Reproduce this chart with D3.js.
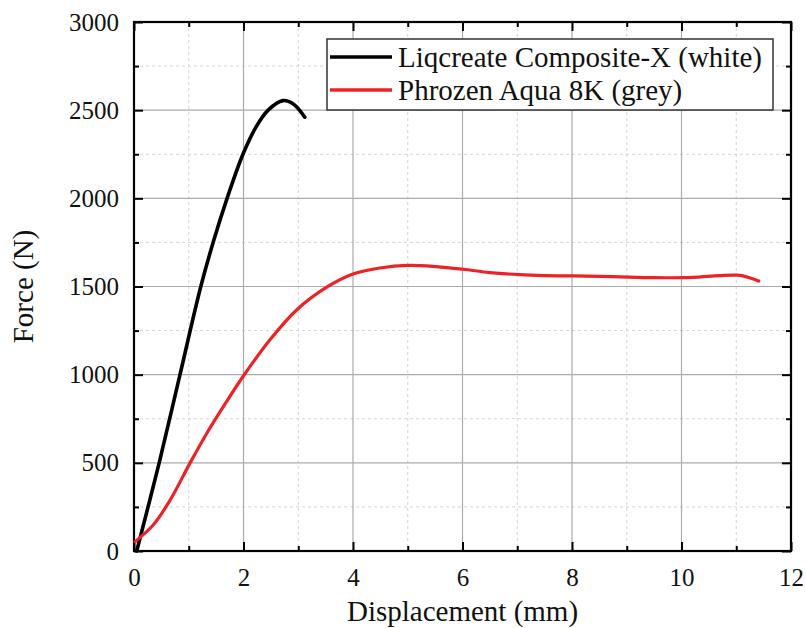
<!DOCTYPE html>
<html>
<head>
<meta charset="utf-8">
<script src="https://cdn.jsdelivr.net/npm/d3@7"></script>
<style>
  body { margin: 0; background: #fff; }
  text { font-family: "Liberation Serif", "DejaVu Serif", serif; fill: #111; }
</style>
</head>
<body>
<svg id="drawing_region"></svg>
<script>
// values
const seriesNames = ["Liqcreate Composite-X (white)", "Phrozen Aqua 8K (grey)"];
const seriesColors = ["#000000", "#ec2227"];

const liqX = [0.05, 0.46, 0.84, 1.22, 1.46, 1.70, 1.99, 2.23, 2.45, 2.72, 2.91, 3.12];
const liqY = [0, 500, 1000, 1500, 1765, 2000, 2250, 2405, 2500, 2554, 2535, 2460];

const phrX = [0.02, 0.35, 0.66, 1.02, 1.33, 1.69, 2.01, 2.48, 2.97, 3.52, 4.0, 4.49, 5.0, 5.52, 6.01, 6.5, 7.04, 7.53, 8.02, 8.75, 9.48, 10.2, 10.69, 11.03, 11.24, 11.41];
const phrY = [53, 147, 289, 497, 668, 847, 998, 1197, 1367, 1496, 1571, 1605, 1620, 1613, 1598, 1579, 1567, 1562, 1560, 1556, 1550, 1552, 1562, 1564, 1550, 1531];

const xTicks = [0, 2, 4, 6, 8, 10, 12];
const yTicks = [0, 500, 1000, 1500, 2000, 2500, 3000];
const xMinor = [1, 3, 5, 7, 9, 11];
const yMinor = [250, 750, 1250, 1750, 2250, 2750];

const config = {
    width: 806,
    height: 628,
    margin: {top: 22, right: 15, bottom: 77, left: 134}
};

const svg = d3.select('#drawing_region')
    .attr('width', config.width)
    .attr('height', config.height);

const inner_width = config.width - config.margin.left - config.margin.right;
const inner_height = config.height - config.margin.top - config.margin.bottom;

const chart = svg.append('g')
    .attr('transform', `translate(${config.margin.left}, ${config.margin.top})`);

const xscale = d3.scaleLinear().domain([0, 12]).range([0, inner_width]);
const yscale = d3.scaleLinear().domain([0, 3000]).range([inner_height, 0]);

// minor grid (dashed)
chart.append('g').selectAll('line').data(xMinor).join('line')
    .attr('x1', d => xscale(d)).attr('x2', d => xscale(d))
    .attr('y1', 0).attr('y2', inner_height)
    .attr('stroke', '#d4d4d4').attr('stroke-width', 1).attr('stroke-dasharray', '3,3');
chart.append('g').selectAll('line').data(yMinor).join('line')
    .attr('y1', d => yscale(d)).attr('y2', d => yscale(d))
    .attr('x1', 0).attr('x2', inner_width)
    .attr('stroke', '#d4d4d4').attr('stroke-width', 1).attr('stroke-dasharray', '3,3');

// major grid
chart.append('g').selectAll('line').data(xTicks.slice(1, -1)).join('line')
    .attr('x1', d => xscale(d)).attr('x2', d => xscale(d))
    .attr('y1', 0).attr('y2', inner_height)
    .attr('stroke', '#ababab').attr('stroke-width', 1.2);
chart.append('g').selectAll('line').data(yTicks.slice(1, -1)).join('line')
    .attr('y1', d => yscale(d)).attr('y2', d => yscale(d))
    .attr('x1', 0).attr('x2', inner_width)
    .attr('stroke', '#ababab').attr('stroke-width', 1.2);

// axes with inward ticks on all four sides
function styleAxis(g) {
    g.select('.domain').remove();
    g.selectAll('line').attr('stroke', '#000').attr('stroke-width', 2);
    g.selectAll('text').style('font-family', '"Liberation Serif", serif').style('font-size', '25px').attr('fill', '#111');
}

chart.append('g')
    .attr('transform', `translate(0, ${inner_height})`)
    .call(d3.axisBottom(xscale).tickValues(xTicks).tickSizeInner(-9).tickSizeOuter(0).tickPadding(17).tickFormat(d3.format('d')))
    .call(styleAxis);
chart.append('g')
    .call(d3.axisTop(xscale).tickValues(xTicks).tickSizeInner(-9).tickSizeOuter(0).tickFormat(''))
    .call(styleAxis);
chart.append('g')
    .call(d3.axisLeft(yscale).tickValues(yTicks).tickSizeInner(-9).tickSizeOuter(0).tickPadding(15).tickFormat(d3.format('d')))
    .call(styleAxis);
chart.append('g')
    .attr('transform', `translate(${inner_width}, 0)`)
    .call(d3.axisRight(yscale).tickValues(yTicks).tickSizeInner(-9).tickSizeOuter(0).tickFormat(''))
    .call(styleAxis);

// minor ticks
chart.append('g')
    .attr('transform', `translate(0, ${inner_height})`)
    .call(d3.axisBottom(xscale).tickValues(xMinor).tickSizeInner(-5).tickSizeOuter(0).tickFormat(''))
    .call(styleAxis);
chart.append('g')
    .call(d3.axisTop(xscale).tickValues(xMinor).tickSizeInner(-5).tickSizeOuter(0).tickFormat(''))
    .call(styleAxis);
chart.append('g')
    .call(d3.axisLeft(yscale).tickValues(yMinor).tickSizeInner(-5).tickSizeOuter(0).tickFormat(''))
    .call(styleAxis);
chart.append('g')
    .attr('transform', `translate(${inner_width}, 0)`)
    .call(d3.axisRight(yscale).tickValues(yMinor).tickSizeInner(-5).tickSizeOuter(0).tickFormat(''))
    .call(styleAxis);

// frame
chart.append('rect')
    .attr('x', 0).attr('y', 0)
    .attr('width', inner_width).attr('height', inner_height)
    .attr('fill', 'none').attr('stroke', '#000').attr('stroke-width', 2.2);

// curves
const line = d3.line()
    .x(d => xscale(d[0]))
    .y(d => yscale(d[1]))
    .curve(d3.curveCatmullRom.alpha(0.5));

const series = [
    liqX.map((x, i) => [x, liqY[i]]),
    phrX.map((x, i) => [x, phrY[i]])
];

chart.selectAll('path.curve')
    .data(series)
    .join('path')
    .attr('class', 'curve')
    .attr('d', line)
    .attr('fill', 'none')
    .attr('stroke', (d, i) => seriesColors[i])
    .attr('stroke-width', (d, i) => i == 0 ? 3.6 : 3.2)
    .attr('stroke-linecap', 'round');

// legend
const legend = svg.append('g').attr('transform', 'translate(327, 39)');
legend.append('rect')
    .attr('x', 0).attr('y', 0)
    .attr('width', 446).attr('height', 71)
    .attr('fill', '#fff').attr('stroke', '#333').attr('stroke-width', 1.5);
seriesNames.forEach((name, i) => {
    const y = 18 + i * 33;
    legend.append('line')
        .attr('x1', 3).attr('x2', 65)
        .attr('y1', y).attr('y2', y)
        .attr('stroke', seriesColors[i]).attr('stroke-width', 3.4);
    legend.append('text')
        .attr('x', 71).attr('y', y)
        .attr('dy', '0.35em')
        .style('font-size', '29px')
        .text(name);
});

// axis titles
svg.append('text')
    .attr('x', config.margin.left + inner_width / 2)
    .attr('y', 621)
    .attr('text-anchor', 'middle')
    .style('font-size', '29px')
    .text('Displacement (mm)');

svg.append('text')
    .attr('transform', `translate(33, ${config.margin.top + inner_height / 2}) rotate(-90)`)
    .attr('text-anchor', 'middle')
    .style('font-size', '29px')
    .text('Force (N)');
</script>
</body>
</html>
